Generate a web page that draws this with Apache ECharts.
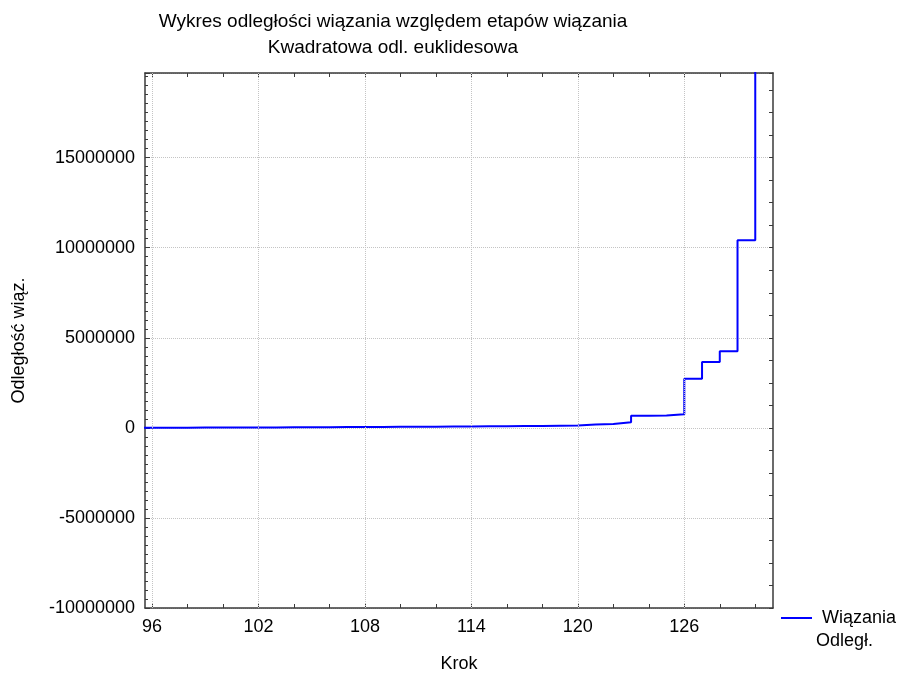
<!DOCTYPE html>
<html>
<head>
<meta charset="utf-8">
<script src="https://cdn.jsdelivr.net/npm/echarts@6/dist/echarts.min.js"></script>
<style>
html,body{margin:0;padding:0;background:#fff;}
#chart{width:900px;height:678px;}
</style>
</head>
<body>
<div id="chart"></div>
<script>
// Data
const steps = [95, 96, 97, 98, 99, 100, 101, 102, 103, 104, 105, 106, 107, 108, 109, 110, 111, 112, 113, 114, 115, 116, 117, 118, 119, 120, 121, 122, 123, 124, 125, 126, 127, 128, 129, 130];
const distances = [9000, 11000, 13000, 15000, 18000, 21000, 24000, 27000, 30000, 34000, 38000, 42000, 46000, 50000, 55000, 60000, 66000, 72000, 78000, 85000, 92000, 100000, 108000, 116000, 125000, 180000, 220000, 310000, 670000, 680000, 760000, 2730000, 3660000, 4250000, 10420000, 36000000];
const xMajorTicks = [96, 102, 108, 114, 120, 126];
const xMinorTicks = [96, 98, 100, 102, 104, 106, 108, 110, 112, 114, 116, 118, 120, 122, 124, 126, 128, 130];
const seriesName = 'Wiązania Odległ.';
const titleText = 'Wykres odległości wiązania względem etapów wiązania\nKwadratowa odl. euklidesowa';

const FONT = '"Liberation Sans", Arial, sans-serif';
const AXIS_COLOR = '#3a3a3a';
const GRID_STYLE = { color: '#c4c4c4', type: [1, 1], width: 1 };

const chart = echarts.init(document.getElementById('chart'), null, { renderer: 'canvas' });

const xCommon = { type: 'value', min: 95.6, max: 131 };
const yCommon = { type: 'value', min: -10000000, max: 19700000, interval: 5000000 };

chart.setOption({
  animation: false,
  backgroundColor: '#ffffff',
  textStyle: { fontFamily: FONT },
  title: {
    text: titleText,
    left: 393,
    top: 9,
    padding: 0,
    textAlign: 'center',
    textStyle: { fontFamily: FONT, fontSize: 19, fontWeight: 'normal', color: '#000', lineHeight: 26 }
  },
  grid: { left: 145, right: 127, top: 73, bottom: 65, containLabel: false },
  legend: {
    data: [seriesName],
    left: 781,
    top: 609,
    padding: 0,
    itemWidth: 31,
    itemHeight: 20,
    itemGap: 5,
    icon: 'path://M0,9 L31,9 L31,11 L0,11 Z',
    formatter: function () { return ' Wiązania'; },
    textStyle: { fontFamily: FONT, fontSize: 18, color: '#000', padding: [0, 0, 0, 0] }
  },
  graphic: [{
    type: 'text',
    left: 816,
    top: 632,
    style: { text: 'Odległ.', font: '18px ' + FONT, fill: '#000' }
  }],
  xAxis: [
    Object.assign({}, xCommon, {
      position: 'bottom',
      name: 'Krok',
      nameLocation: 'middle',
      nameGap: 47,
      nameTextStyle: { fontFamily: FONT, fontSize: 18, color: '#000' },
      axisLine: { show: true, onZero: false, lineStyle: { color: AXIS_COLOR, width: 1.5 } },
      axisTick: { show: true, inside: true, length: 4, customValues: xMinorTicks, lineStyle: { color: AXIS_COLOR } },
      axisLabel: { show: true, customValues: xMajorTicks, margin: 10, fontSize: 18, color: '#000', fontFamily: FONT },
      splitLine: { show: false }
    }),
    Object.assign({}, xCommon, {
      position: 'top',
      axisLine: { show: true, onZero: false, lineStyle: { color: AXIS_COLOR, width: 1.5 } },
      axisTick: { show: true, inside: true, length: 4, customValues: xMinorTicks, lineStyle: { color: AXIS_COLOR } },
      axisLabel: { show: false },
      splitLine: { show: false }
    })
  ],
  yAxis: [
    Object.assign({}, yCommon, {
      position: 'left',
      name: 'Odległość wiąz.',
      nameLocation: 'middle',
      nameGap: 117,
      nameTextStyle: { fontFamily: FONT, fontSize: 18, color: '#000' },
      axisLine: { show: true, onZero: false, lineStyle: { color: AXIS_COLOR, width: 1.5 } },
      axisTick: { show: true, inside: true, length: 5, lineStyle: { color: AXIS_COLOR } },
      minorTick: { show: true, splitNumber: 10, length: 3, lineStyle: { color: AXIS_COLOR } },
      axisLabel: { show: true, showMaxLabel: false, margin: 10, fontSize: 18, color: '#000', fontFamily: FONT,
        formatter: function (v) { return String(Math.round(v)); } },
      splitLine: { show: true, lineStyle: GRID_STYLE }
    }),
    Object.assign({}, yCommon, {
      position: 'right',
      axisLine: { show: true, onZero: false, lineStyle: { color: AXIS_COLOR, width: 1.5 } },
      axisTick: { show: true, inside: true, length: 4, lineStyle: { color: AXIS_COLOR } },
      minorTick: { show: true, splitNumber: 4, length: 4, lineStyle: { color: AXIS_COLOR } },
      axisLabel: { show: false },
      splitLine: { show: false }
    })
  ],
  series: [{
    name: 'grid-x',
    type: 'line',
    xAxisIndex: 0,
    yAxisIndex: 0,
    data: [],
    silent: true,
    z: 1,
    markLine: {
      silent: true,
      symbol: 'none',
      label: { show: false },
      lineStyle: GRID_STYLE,
      emphasis: { disabled: true },
      data: xMajorTicks.map(v => ({ xAxis: v }))
    }
  }, {
    name: seriesName,
    type: 'line',
    step: 'end',
    xAxisIndex: 0,
    yAxisIndex: 0,
    showSymbol: false,
    symbol: 'none',
    clip: true,
    lineStyle: { color: '#0000ff', width: 2 },
    itemStyle: { color: '#0000ff' },
    data: steps.map((s, i) => [s, distances[i]]),
    z: 3
  }]
});
</script>
</body>
</html>
